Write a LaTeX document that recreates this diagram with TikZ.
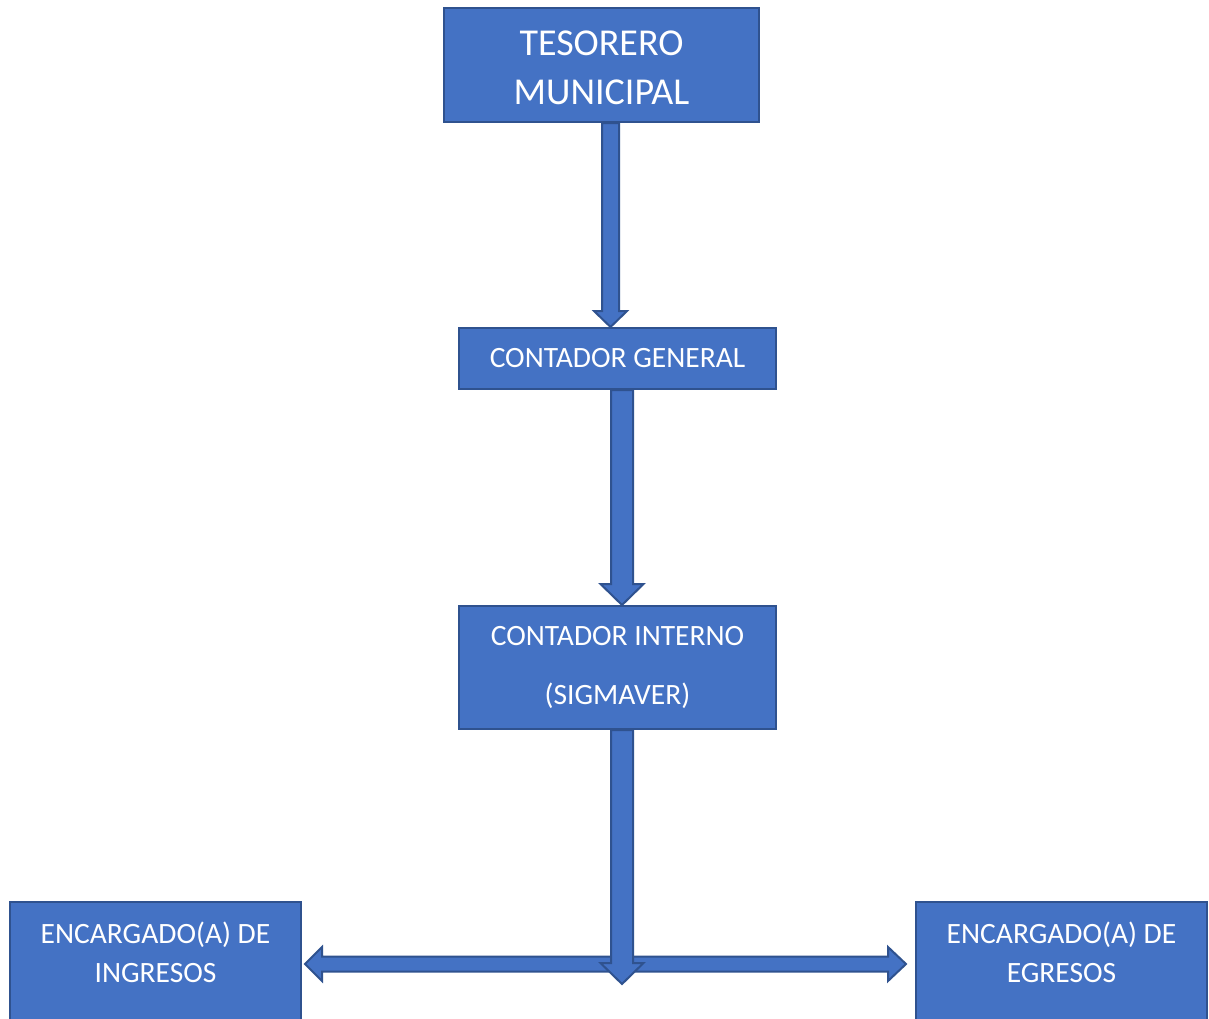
\documentclass[tikz,border=0pt]{standalone}
\usepackage{fontspec}
\setmainfont{Carlito}
\usetikzlibrary{calc}
\definecolor{boxfill}{HTML}{4472C4}
\definecolor{boxline}{HTML}{2F528F}
\tikzset{
  orgbox/.style={draw=boxline, fill=boxfill, line width=2pt, text=white,
    align=center, inner sep=0pt, rectangle},
  blockarrow/.style={draw=boxline, fill=boxfill, line width=2pt, line join=miter},
}
\newcommand\vblockarrow[5]{%
  \draw[blockarrow] ($(#1)+(-#3,0)$) -- ($(#2)+(-#3,-#5)$) -- ($(#2)+(-#4,-#5)$)
    -- (#2) -- ($(#2)+(#4,-#5)$) -- ($(#2)+(#3,-#5)$) -- ($(#1)+(#3,0)$) -- cycle;}
\begin{document}
\begin{tikzpicture}[x=1pt, y=-1pt]
\clip (0,0) rectangle (1209,1018);
\fill[white] (0,0) rectangle (1209,1018);

\node[orgbox, minimum width=315pt, minimum height=114pt,
  font=\fontsize{38}{49}\selectfont] (tes) at (601.5,65) {\rule{0pt}{31pt}TESORERO\\MUNICIPAL};
\node[orgbox, minimum width=317pt, minimum height=61pt,
  font=\fontsize{29.5}{35}\selectfont] (cg) at (617.5,358.5) {CONTADOR GENERAL};
\node[orgbox, minimum width=317pt, minimum height=123pt,
  font=\fontsize{29.5}{59}\selectfont] (ci) at (617.5,667.5) {CONTADOR INTERNO\\(SIGMAVER)};
\node[orgbox, minimum width=291pt, minimum height=140pt,
  font=\fontsize{29.5}{39}\selectfont] (ing) at (155.5,972) {ENCARGADO(A) DE\\INGRESOS\\~};
\node[orgbox, minimum width=291pt, minimum height=140pt,
  font=\fontsize{29.5}{39}\selectfont] (egr) at (1061.5,972) {ENCARGADO(A) DE\\EGRESOS\\~};

% arrow 1
\coordinate (a1s) at ($(tes.south)+(9,0)$);
\coordinate (a1e) at ($(cg.north)+(-7,0)$);
\vblockarrow{a1s}{a1e}{8.5}{16.5}{16}
% arrow 2
\coordinate (a2s) at ($(cg.south)+(4.5,0)$);
\coordinate (a2e) at ($(ci.north)+(4.5,0)$);
\vblockarrow{a2s}{a2e}{11}{21.5}{21}
% horizontal double arrow
\coordinate (hl) at ($(ing.north east)+(3,63)$);
\coordinate (hr) at ($(egr.north west)+(-9,63)$);
\draw[blockarrow] (hl) -- ($(hl)+(17,-17)$) -- ($(hl)+(17,-7.5)$) -- ($(hr)+(-18,-7.5)$)
  -- ($(hr)+(-18,-17)$) -- (hr) -- ($(hr)+(-18,17)$) -- ($(hr)+(-18,7.5)$)
  -- ($(hl)+(17,7.5)$) -- ($(hl)+(17,17)$) -- cycle;
% arrow 3
\coordinate (a3s) at ($(ci.south)+(4.5,0)$);
\coordinate (a3e) at ($(ci.south)+(4.5,254)$);
\vblockarrow{a3s}{a3e}{11}{21.5}{21}
\end{tikzpicture}
\end{document}
